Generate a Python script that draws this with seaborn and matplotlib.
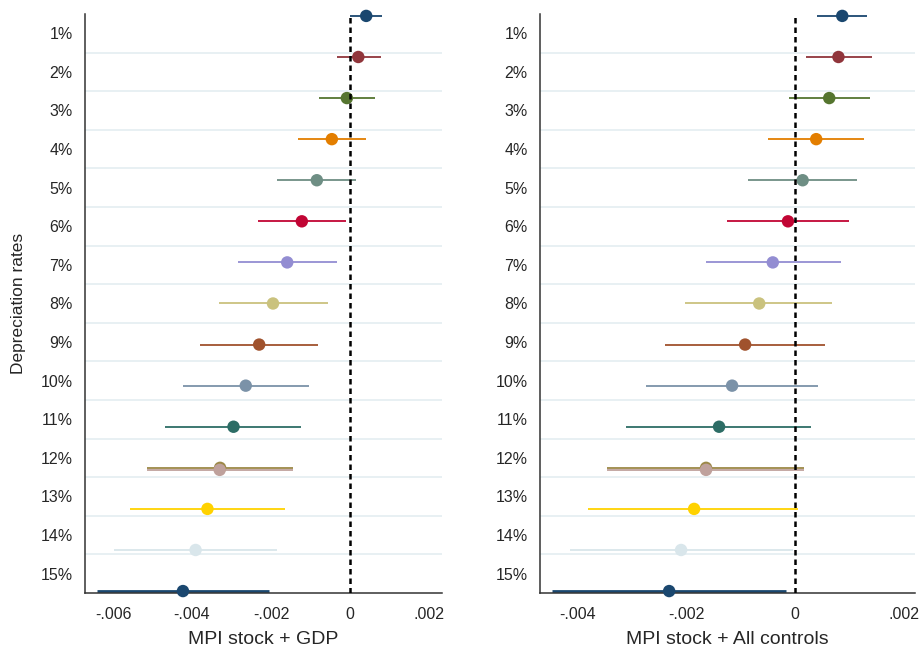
import numpy as np
import pandas as pd
import matplotlib
matplotlib.use("Agg")
import matplotlib.pyplot as plt
import seaborn as sns

# coefficients per depreciation rate (16 estimates, 12% appears twice)
series = ["1%", "2%", "3%", "4%", "5%", "6%", "7%", "8%", "9%", "10%",
          "11%", "12%", "12% b", "13%", "14%", "15%"]
rate_labels = ["1%", "2%", "3%", "4%", "5%", "6%", "7%", "8%", "9%", "10%",
               "11%", "12%", "13%", "14%", "15%"]

gdp_coef = [0.00041, 0.00021, -0.00008, -0.00046, -0.00084, -0.00122, -0.00159, -0.00195,
            -0.00230, -0.00264, -0.00295, -0.00329, -0.00330, -0.00361, -0.00391, -0.00423]
gdp_lo = [-0.00001, -0.00034, -0.00079, -0.00132, -0.00184, -0.00234, -0.00284, -0.00332,
          -0.00379, -0.00424, -0.00469, -0.00514, -0.00514, -0.00556, -0.00598, -0.00641]
gdp_hi = [0.00081, 0.00078, 0.00063, 0.00040, 0.00015, -0.00010, -0.00034, -0.00057,
          -0.00080, -0.00103, -0.00123, -0.00144, -0.00144, -0.00165, -0.00185, -0.00204]

all_coef = [0.00087, 0.00080, 0.00063, 0.00039, 0.00014, -0.00013, -0.00041, -0.00066,
            -0.00092, -0.00116, -0.00140, -0.00164, -0.00164, -0.00186, -0.00210, -0.00232]
all_lo = [0.00040, 0.00020, -0.00012, -0.00049, -0.00087, -0.00125, -0.00164, -0.00202,
          -0.00239, -0.00275, -0.00311, -0.00347, -0.00347, -0.00381, -0.00415, -0.00448]
all_hi = [0.00133, 0.00142, 0.00138, 0.00128, 0.00114, 0.00099, 0.00084, 0.00069,
          0.00056, 0.00042, 0.00030, 0.00017, 0.00017, 0.00006, -0.00004, -0.00017]

# stata s2color palette
colors = ["#1a476f", "#90353b", "#55752f", "#e37e00", "#6e8e84", "#c10534", "#938dd2",
          "#cac27e", "#a0522d", "#7b92a8", "#2d6d66", "#9c8847", "#bfa19c", "#ffd200",
          "#d9e6eb", "#1a476f"]

sns.set_style("white")
plt.rcParams["font.family"] = ["Liberation Sans", "DejaVu Sans"]

# row of each estimate: the duplicate 12% sits just under the first one
row = np.arange(len(series), dtype=float)
row[12] = 11.05
row[13:] -= 1
ypos = 0.05 + row * 14.9 / 14


def fmt(v, pos):
    if abs(v) < 1e-12:
        return "0"
    s = "%.3f" % v
    return s.replace("0.", ".")


def panel(ax, coef, lo, hi, xlim, xticks, xlabel):
    df = pd.DataFrame({"series": series, "coef": coef, "lo": lo, "hi": hi, "y": ypos})
    for i in range(len(df)):
        lw = 1.3 if i < 15 else 2.0
        ax.hlines(df.y[i], df.lo[i], df.hi[i], color=colors[i], lw=lw, zorder=2, clip_on=False)
    sns.scatterplot(data=df, x="coef", y="y", hue="series", palette=colors, s=80,
                    edgecolor="none", legend=False, zorder=3, clip_on=False, ax=ax)
    for g in range(1, 15):
        ax.axhline(g, color="#e6eff2", lw=1.3, zorder=0)
    ax.axvline(0, color="black", lw=1.8, dashes=(2.2, 1.6), zorder=4)
    ax.set_ylim(15, 0)
    ax.set_xlim(*xlim)
    ax.set_yticks(np.arange(15) + 0.5)
    ax.set_yticklabels(rate_labels, fontsize=11.5)
    ax.set_xticks(xticks)
    ax.xaxis.set_major_formatter(matplotlib.ticker.FuncFormatter(fmt))
    ax.tick_params(axis="x", labelsize=11.5, length=5, width=1, pad=5, direction="out")
    ax.tick_params(axis="y", length=7, width=1, pad=2, direction="out")
    sns.despine(ax=ax)
    for s in ["left", "bottom"]:
        ax.spines[s].set_color("#333333")
        ax.spines[s].set_linewidth(1.1)
    ax.set_ylabel("")
    ax.set_xlabel(xlabel, fontsize=14)
    ax.xaxis.set_label_coords(0.5, -0.066)


fig = plt.figure(figsize=(9.19, 6.5), dpi=100)
ax1 = fig.add_axes([0.0925, 0.0877, 0.3885, 0.8908])
ax2 = fig.add_axes([0.5876, 0.0877, 0.408, 0.8908])

panel(ax1, gdp_coef, gdp_lo, gdp_hi, (-0.00671, 0.00233),
      [-0.006, -0.004, -0.002, 0, 0.002], "MPI stock + GDP")
panel(ax2, all_coef, all_lo, all_hi, (-0.0047, 0.00221),
      [-0.004, -0.002, 0, 0.002], "MPI stock + All controls")

ax1.set_ylabel("Depreciation rates", fontsize=12.5)
ax1.yaxis.set_label_coords(-0.165, 0.5)

fig.savefig("out.png", dpi=100)
